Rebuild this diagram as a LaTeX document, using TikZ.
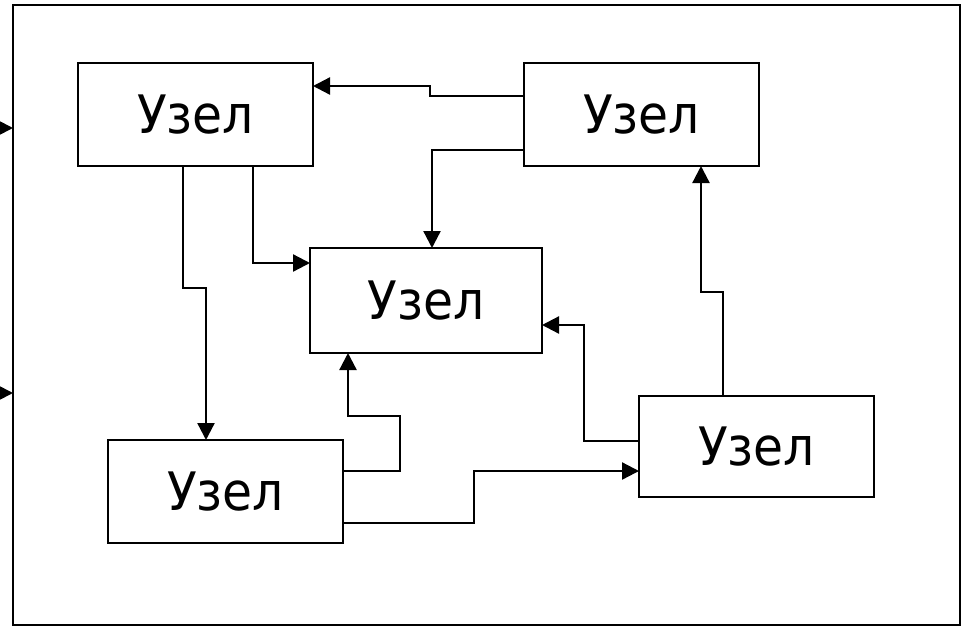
\documentclass[tikz,border=0pt]{standalone}
\usepackage{fontspec}
\newfontfamily\nodefont[FakeStretch=0.92]{DejaVu Sans}
\usetikzlibrary{arrows.meta}
\begin{document}
\begin{tikzpicture}[x=1pt,y=-1pt,
  unit/.style={draw,line width=2.3pt,rectangle,inner sep=0pt,outer sep=0pt,
    minimum width=235pt,minimum height=103pt,font=\nodefont\fontsize{53}{60}\selectfont},
  link/.style={line width=2.3pt,-{Triangle[length=17pt,width=17pt]}}]
\useasboundingbox (0,0) rectangle (965,627);
% outer frame
\node[draw,line width=2.3pt,rectangle,inner sep=0pt,outer sep=0pt,
  minimum width=947pt,minimum height=620pt] (frame) at (486.5,315) {};
% nodes
\node[unit] (A) at (195.5,114.5) {Узел};
\node[unit] (B) at (641.5,114.5) {Узел};
\node[unit,minimum width=232pt,minimum height=105pt] (C) at (426,300.5) {Узел};
\node[unit] (D) at (225.5,491.5) {Узел};
\node[unit,minimum height=101pt] (E) at (756.5,446.5) {Узел};
% inputs from outside the frame
\coordinate (in1) at (0,128);
\coordinate (in2) at (0,393);
\draw[link] (in1) -- (in1 -| frame.west);
\draw[link] (in2) -- (in2 -| frame.west);
% connectors
\draw[link] (B.west |- 0,96) -- (430,96) -- (430,86) -- (A.east |- 0,86);
\draw[link] (B.west |- 0,150) -- (432,150) -- (C.north -| 432,0);
\draw[link] (A.south -| 253,0) -- (253,263) -- (C.west |- 0,263);
\draw[link] (A.south -| 183,0) -- (183,288) -- (206,288) -- (D.north -| 206,0);
\draw[link] (D.east |- 0,471) -- (400,471) -- (400,416) -- (348,416) -- (C.south -| 348,0);
\draw[link] (D.east |- 0,523) -- (474,523) -- (474,471) -- (E.west |- 0,471);
\draw[link] (E.west |- 0,441) -- (584,441) -- (584,325) -- (C.east |- 0,325);
\draw[link] (E.north -| 723,0) -- (723,292) -- (701,292) -- (B.south -| 701,0);
\end{tikzpicture}
\end{document}
